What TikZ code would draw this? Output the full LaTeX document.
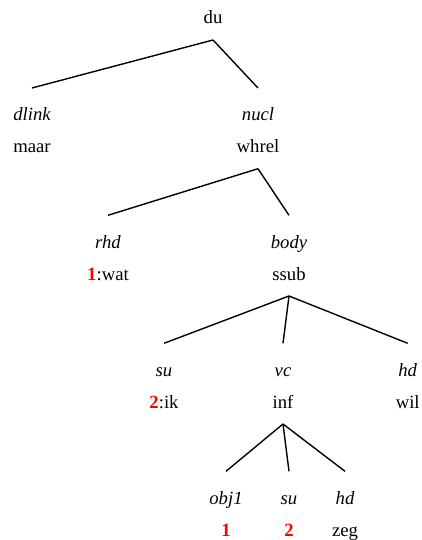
\documentclass[tikz,border=0pt]{standalone}
\usepackage{fontspec}
\setmainfont{Liberation Serif}
\usepackage{xcolor}
\usetikzlibrary{positioning}
\definecolor{coidx}{RGB}{255,0,0}
\newcommand{\idx}[1]{\textbf{\textcolor{coidx}{#1}}}

\begin{document}
\begin{tikzpicture}[x=1bp,y=-1bp,
  every node/.style={font=\fontsize{18.7bp}{22bp}\selectfont,inner sep=0pt,anchor=base},
  cat/.style={text height=13bp,text depth=4bp,outer ysep=12bp},
  rel/.style={font=\fontsize{18.7bp}{22bp}\selectfont\itshape,text height=13bp,text depth=4bp,outer ysep=19.7bp},
  edge/.style={line width=1.4bp}]
  \useasboundingbox (0,0) rectangle (421,540);
  % root
  \node[cat] (du) at (213,24) {du};
  % level 1
  \node[rel] (dlink) at (32,120.7) {dlink};
  \node[cat] (maar) at (32,152.7) {maar};
  \node[rel] (nucl) at (258,120.7) {nucl};
  \node[cat] (whrel) at (258,152.7) {whrel};
  % level 2
  \node[rel] (rhd) at (108,248) {rhd};
  \node[cat] (wat) at (108,280) {\idx{1}:wat};
  \node[rel] (body) at (289,248) {body};
  \node[cat] (ssub) at (289,280) {ssub};
  % level 3
  \node[rel] (su) at (164,376) {su};
  \node[cat] (ik) at (164,408) {\idx{2}:ik};
  \node[rel] (vc) at (283,376) {vc};
  \node[cat] (inf) at (283,408) {inf};
  \node[rel] (hd) at (407.7,376) {hd};
  \node[cat] (wil) at (407.7,408) {wil};
  % level 4
  \node[rel] (obj) at (226,504) {obj1};
  \node[cat] (one) at (226,536) {\idx{1}};
  \node[rel] (suB) at (289,504) {su};
  \node[cat] (two) at (289,536) {\idx{2}};
  \node[rel] (hdB) at (345,504) {hd};
  \node[cat] (zeg) at (345,536) {zeg};
  % edges
  \foreach \p/\c in {du/dlink,du/nucl,whrel/rhd,whrel/body,ssub/su,ssub/vc,ssub/hd,inf/obj,inf/suB,inf/hdB}
    \draw[edge] (\p.south) -- (\c.north);
\end{tikzpicture}
\end{document}
